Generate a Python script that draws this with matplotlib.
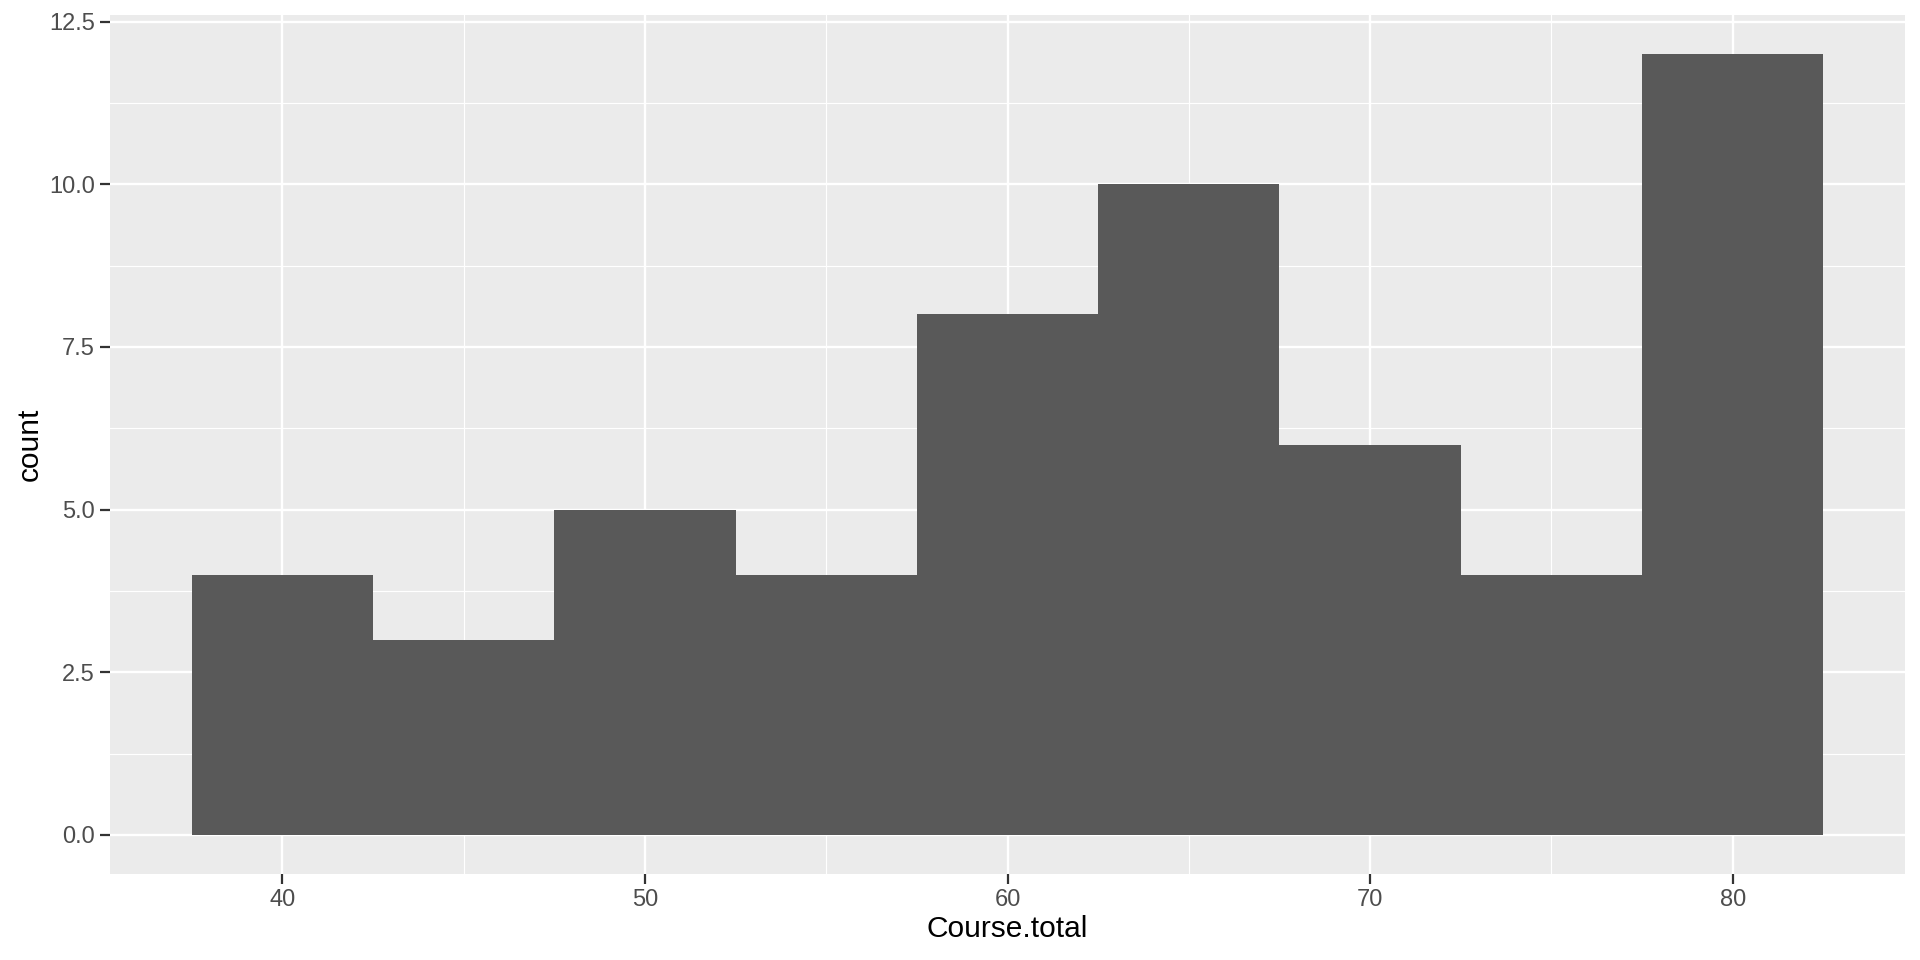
import matplotlib
matplotlib.use("Agg")
import matplotlib.pyplot as plt
import numpy as np
from matplotlib.ticker import FixedLocator

bin_centers = [40, 45, 50, 55, 60, 65, 70, 75, 80]
counts = [4, 3, 5, 4, 8, 10, 6, 4, 12]
bin_width = 5
x_ticks = [40, 50, 60, 70, 80]
y_ticks = [0.0, 2.5, 5.0, 7.5, 10.0, 12.5]
x_label = "Course.total"
y_label = "count"

plt.rcParams['font.family'] = ['Liberation Sans', 'DejaVu Sans']

fig = plt.figure(figsize=(19.2, 9.6), dpi=100)
ax = fig.add_axes([110/1920, (960-874)/960, (1905-110)/1920, (874-15)/960])
ax.set_facecolor('#EBEBEB')

ax.bar(bin_centers, counts, width=bin_width, color='#595959', edgecolor='none', zorder=3)

lo = bin_centers[0] - bin_width/2
hi = bin_centers[-1] + bin_width/2
pad = (hi - lo) * 0.05
ax.set_xlim(lo - pad, hi + pad)
ymax = max(counts)
ax.set_ylim(-ymax*0.05, ymax*1.05)

ax.xaxis.set_major_locator(FixedLocator(x_ticks))
ax.yaxis.set_major_locator(FixedLocator(y_ticks))
ax.xaxis.set_minor_locator(FixedLocator([35, 45, 55, 65, 75]))
ax.yaxis.set_minor_locator(FixedLocator([1.25, 3.75, 6.25, 8.75, 11.25]))
ax.set_yticklabels([f"{v:.1f}" for v in y_ticks])
ax.set_xticklabels([str(v) for v in x_ticks])

ax.grid(which='major', color='white', linewidth=1.7, zorder=1)
ax.grid(which='minor', color='white', linewidth=0.85, zorder=1)
ax.set_axisbelow(True)
for s in ax.spines.values():
    s.set_visible(False)

ax.tick_params(which='major', length=7, width=1.6, color='#333333',
               labelsize=17, labelcolor='#4D4D4D', pad=4)
ax.tick_params(which='minor', length=0)

ax.set_xlabel(x_label, fontsize=21.5, color='black', labelpad=3)
ax.set_ylabel(y_label, fontsize=21.5, color='black', labelpad=4)

fig.savefig("out.png", dpi=100, facecolor='white')
